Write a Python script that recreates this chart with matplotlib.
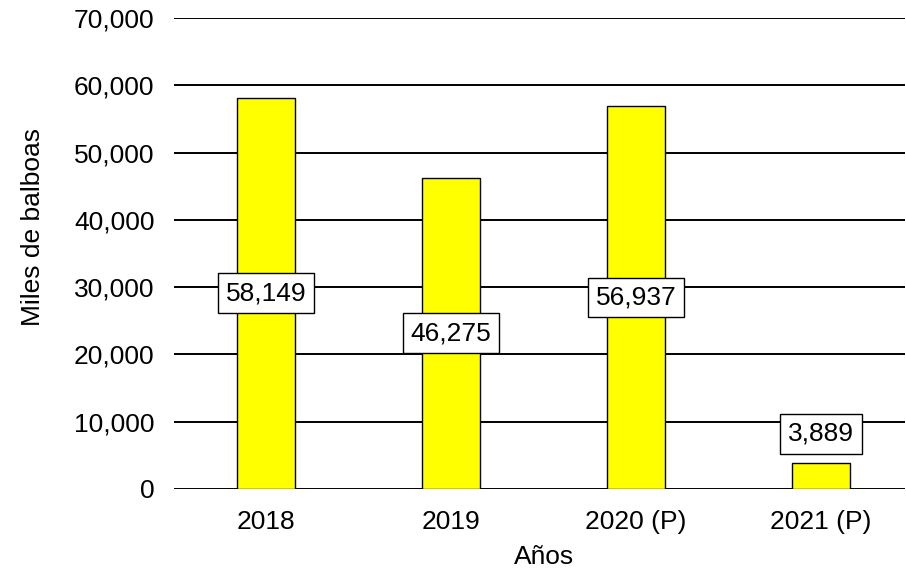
import matplotlib
matplotlib.use("Agg")
import matplotlib.pyplot as plt
from matplotlib.ticker import FuncFormatter

plt.rcParams['font.family'] = ['Liberation Sans', 'DejaVu Sans']

anios = ['2018', '2019', '2020 (P)', '2021 (P)']
valores = [58149, 46275, 56937, 3889]

fig = plt.figure(figsize=(9.06, 5.75), dpi=100)
ax = fig.add_axes([174/906, (575-489)/575, (905-174)/906, 471/575])

x = range(len(anios))
ax.bar(x, valores, width=0.31, color='#ffff00', edgecolor='black', linewidth=1.0, zorder=3)

ax.set_ylim(0, 70000)
ax.set_xlim(-0.497, 3.454)
ax.set_yticks(range(0, 70001, 10000))
ax.yaxis.set_major_formatter(FuncFormatter(lambda v, p: f'{int(v):,}'))
ax.set_xticks(list(x))
ax.set_xticklabels(anios)
ax.tick_params(length=0, labelsize=19)
ax.tick_params(axis='y', pad=14)
ax.tick_params(axis='x', pad=15)
ax.grid(axis='y', color='black', linewidth=1.4, zorder=0)
for s in ax.spines.values():
    s.set_visible(False)

for i, v in enumerate(valores):
    y = v / 2 if v > 20000 else v + 4300
    ax.text(i, y, f'{v:,}', ha='center', va='center', fontsize=19, zorder=5,
            bbox=dict(boxstyle='square,pad=0.3', facecolor='white', edgecolor='black', linewidth=1.0))

ax.set_ylabel('Miles de balboas', fontsize=19)
ax.yaxis.set_label_coords(-0.177, 0.556)
ax.set_xlabel('Años', fontsize=19)
ax.xaxis.set_label_coords(0.506, -0.118)

fig.savefig('out.png', dpi=100)
